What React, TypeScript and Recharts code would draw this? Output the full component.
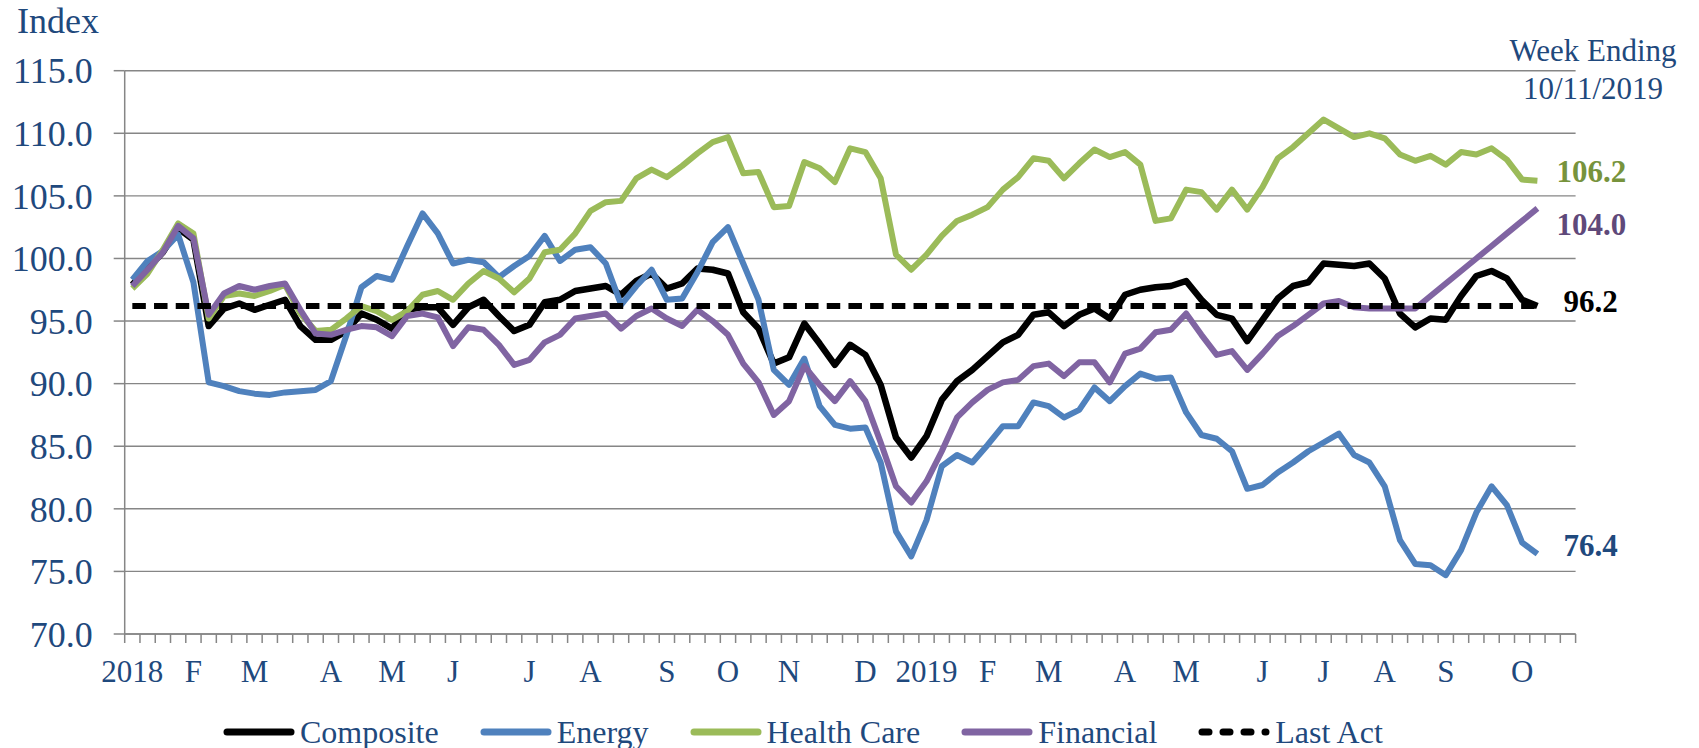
import { CartesianGrid, Line, LineChart, ReferenceLine, XAxis, YAxis } from "recharts";

// weekly index values, week ending Fri 1/5/2018 .. 10/11/2019
const composite = [
  97.9, 99.2, 100.5, 102.4, 101.5, 94.6, 96.0, 96.4, 95.9, 96.3, 96.7, 94.6, 93.5, 93.5, 94.2, 95.6,
  95.1, 94.4, 95.9, 96.1, 96.1, 94.7, 96.1, 96.7, 95.4, 94.2, 94.7, 96.5, 96.7, 97.4, 97.6, 97.8,
  97.1, 98.2, 98.8, 97.6, 98.0, 99.2, 99.1, 98.8, 95.7, 94.4, 91.6, 92.1, 94.8, 93.2, 91.5, 93.1,
  92.3, 89.9, 85.7, 84.1, 85.8, 88.7, 90.2, 91.1, 92.2, 93.3, 93.9, 95.5, 95.7, 94.6, 95.5, 96.0,
  95.2, 97.1, 97.5, 97.7, 97.8, 98.2, 96.7, 95.5, 95.2, 93.4, 95.1, 96.8, 97.8, 98.1, 99.6, 99.5,
  99.4, 99.6, 98.4, 95.6, 94.5, 95.2, 95.1, 97.0, 98.6, 99.0, 98.4, 96.7, 96.2,
];

const energy = [
  98.3, 99.8, 100.6, 101.9, 98.1, 90.1, 89.8, 89.4, 89.2, 89.1, 89.3, 89.4, 89.5, 90.2, 93.8, 97.7,
  98.6, 98.3, 101.0, 103.6, 102.0, 99.6, 99.9, 99.7, 98.5, 99.4, 100.2, 101.8, 99.8, 100.7, 100.9, 99.6,
  96.3, 97.8, 99.1, 96.7, 96.8, 98.9, 101.3, 102.5, 99.6, 96.7, 91.1, 89.9, 92.0, 88.2, 86.7, 86.4,
  86.5, 83.7, 78.2, 76.2, 79.1, 83.4, 84.3, 83.7, 85.1, 86.6, 86.6, 88.5, 88.2, 87.3, 87.9, 89.7,
  88.6, 89.8, 90.8, 90.4, 90.5, 87.7, 85.9, 85.6, 84.6, 81.6, 81.9, 82.9, 83.7, 84.6, 85.3, 86.0,
  84.3, 83.7, 81.8, 77.5, 75.6, 75.5, 74.7, 76.7, 79.7, 81.8, 80.3, 77.3, 76.4,
];

const healthCare = [
  97.6, 98.8, 100.7, 102.8, 102.0, 95.2, 97.0, 97.2, 97.0, 97.4, 97.9, 95.6, 94.2, 94.3, 95.2, 96.2,
  95.8, 95.1, 95.8, 97.1, 97.4, 96.7, 98.0, 99.0, 98.4, 97.3, 98.4, 100.5, 100.7, 102.0, 103.8, 104.5,
  104.6, 106.4, 107.1, 106.5, 107.4, 108.4, 109.3, 109.7, 106.8, 106.9, 104.1, 104.2, 107.7, 107.2, 106.1, 108.8,
  108.5, 106.4, 100.3, 99.1, 100.3, 101.8, 103.0, 103.5, 104.1, 105.5, 106.5, 108.0, 107.8, 106.4, 107.6, 108.7,
  108.1, 108.5, 107.5, 103.0, 103.2, 105.5, 105.3, 103.9, 105.5, 103.9, 105.7, 108.0, 108.9, 110.0, 111.1, 110.4,
  109.7, 110.0, 109.6, 108.3, 107.8, 108.2, 107.5, 108.5, 108.3, 108.8, 107.9, 106.3, 106.2,
];

const financial = [
  97.8, 99.1, 100.5, 102.6, 101.6, 95.5, 97.2, 97.8, 97.5, 97.8, 98.0, 95.9, 94.0, 93.9, 94.3, 94.6,
  94.5, 93.8, 95.4, 95.6, 95.3, 93.0, 94.5, 94.3, 93.1, 91.5, 91.9, 93.3, 93.9, 95.2, 95.4, 95.6,
  94.4, 95.4, 96.0, 95.2, 94.6, 95.9, 95.0, 93.9, 91.6, 90.1, 87.5, 88.6, 91.4, 89.9, 88.6, 90.2,
  88.6, 85.3, 81.8, 80.5, 82.2, 84.6, 87.3, 88.5, 89.5, 90.1, 90.3, 91.4, 91.6, 90.6, 91.7, 91.7,
  90.1, 92.4, 92.8, 94.1, 94.3, 95.6, 93.9, 92.3, 92.6, 91.1, 92.4, 93.8, 94.6, 95.5, 96.4, 96.6,
  96.1, 96.0, 96.0, 96.0, 96.0, 97.0, 98.0, 99.0, 100.0, 101.0, 102.0, 103.0, 104.0,
];

const lastAct = 96.2;

// first week of each month on the category axis
const monthTicks = [
  { week: 0, label: "2018" },
  { week: 4, label: "F" },
  { week: 8, label: "M" },
  { week: 13, label: "A" },
  { week: 17, label: "M" },
  { week: 21, label: "J" },
  { week: 26, label: "J" },
  { week: 30, label: "A" },
  { week: 35, label: "S" },
  { week: 39, label: "O" },
  { week: 43, label: "N" },
  { week: 48, label: "D" },
  { week: 52, label: "2019" },
  { week: 56, label: "F" },
  { week: 60, label: "M" },
  { week: 65, label: "A" },
  { week: 69, label: "M" },
  { week: 74, label: "J" },
  { week: 78, label: "J" },
  { week: 82, label: "A" },
  { week: 86, label: "S" },
  { week: 91, label: "O" },
];

const yTicks = [70, 75, 80, 85, 90, 95, 100, 105, 110, 115];

const CATEGORY_COUNT = 95;
const CHART_W = 1699;
const CHART_H = 748;
const Y_AXIS_W = 124.7;
const margin = { top: 70.7, right: 123.4, bottom: 54, left: 0 };
const slot = (CHART_W - margin.left - margin.right - Y_AXIS_W) / CATEGORY_COUNT;

const serif = '"Liberation Serif", "Times New Roman", serif';
const textBlue = "#1F497D";
const gridGray = "#868686";

const colors = {
  composite: "#000000",
  energy: "#4F81BD",
  healthCare: "#9BBB59",
  financial: "#8064A2",
};

const data = composite.map((value, i) => ({
  week: i,
  composite: value,
  energy: energy[i],
  healthCare: healthCare[i],
  financial: financial[i],
}));

const boundaries = Array.from({ length: CATEGORY_COUNT + 1 }, (_, k) => k - 0.5);

const legendItems = [
  { name: "Composite", color: colors.composite, dashed: false },
  { name: "Energy", color: colors.energy, dashed: false },
  { name: "Health Care", color: colors.healthCare, dashed: false },
  { name: "Financial", color: colors.financial, dashed: false },
  { name: "Last Act", color: "#000000", dashed: true },
];

function MonthTick(props: any) {
  const { x, y, payload } = props;
  const hit = monthTicks.find((m) => m.week === payload.value + 0.5);
  if (!hit) return <g />;
  return (
    <text x={x + slot / 2} y={y + 38.7} textAnchor="middle" fill={textBlue} fontSize={31} fontFamily={serif}>
      {hit.label}
    </text>
  );
}

function endLabel(color: string, dx: number, dy: number) {
  return (p: any) => {
    if (p.index !== data.length - 1) return null;
    const x = p.x ?? p.viewBox?.x;
    const y = p.y ?? p.viewBox?.y;
    return (
      <text x={x + dx} y={y + dy} fill={color} fontSize={31} fontWeight="bold" fontFamily={serif}>
        {Number(p.value).toFixed(1)}
      </text>
    );
  };
}

export default function App() {
  return (
    <div style={{ position: "relative", width: CHART_W, height: CHART_H, fontFamily: serif }}>
      <style>{"body{margin:0}"}</style>
      <LineChart width={CHART_W} height={CHART_H} data={data} margin={margin}>
        <CartesianGrid vertical={false} stroke={gridGray} strokeWidth={1.4} />
        <XAxis
          dataKey="week"
          type="number"
          domain={[-0.5, CATEGORY_COUNT - 0.5]}
          ticks={boundaries}
          interval={0}
          height={60}
          tickSize={9}
          tickMargin={0}
          axisLine={{ stroke: gridGray, strokeWidth: 1.5 }}
          tickLine={{ stroke: gridGray, strokeWidth: 1.5 }}
          tick={(p: any) => <MonthTick {...p} />}
        />
        <YAxis
          domain={[70, 115]}
          ticks={yTicks}
          width={Y_AXIS_W}
          tickSize={11}
          tickMargin={21}
          axisLine={{ stroke: gridGray, strokeWidth: 1.5 }}
          tickLine={{ stroke: gridGray, strokeWidth: 1.5 }}
          tick={{ fill: textBlue, fontSize: 36, fontFamily: serif }}
          tickFormatter={(v: number) => v.toFixed(1)}
        />
        <Line
          dataKey="composite"
          stroke={colors.composite}
          strokeWidth={6.5}
          strokeLinejoin="round"
          dot={false}
          isAnimationActive={false}
          label={endLabel("#000000", 26, 5.7)}
        />
        <Line
          dataKey="energy"
          stroke={colors.energy}
          strokeWidth={6}
          strokeLinejoin="round"
          dot={false}
          isAnimationActive={false}
          label={endLabel("#1F497D", 26, 2)}
        />
        <Line
          dataKey="healthCare"
          stroke={colors.healthCare}
          strokeWidth={6}
          strokeLinejoin="round"
          dot={false}
          isAnimationActive={false}
          label={endLabel("#77933C", 19, 0.8)}
        />
        <Line
          dataKey="financial"
          stroke={colors.financial}
          strokeWidth={6}
          strokeLinejoin="round"
          dot={false}
          isAnimationActive={false}
          label={endLabel("#5F497A", 19, 26.6)}
        />
        <ReferenceLine
          segment={[
            { x: 0, y: lastAct },
            { x: data.length - 1, y: lastAct },
          ]}
          stroke="#000000"
          strokeWidth={6}
          strokeDasharray="13.5 8.2"
        />
      </LineChart>

      <svg width={CHART_W} height={CHART_H} style={{ position: "absolute", left: 0, top: 0, pointerEvents: "none" }}>
        <text x={17} y={33} fill={textBlue} fontSize={36} fontFamily={serif}>
          Index
        </text>
        <text x={1593} y={61} textAnchor="middle" fill={textBlue} fontSize={31} fontFamily={serif}>
          Week Ending
        </text>
        <text x={1593} y={99} textAnchor="middle" fill={textBlue} fontSize={31} fontFamily={serif}>
          10/11/2019
        </text>
      </svg>

      <div
        style={{
          position: "absolute",
          left: 223,
          top: 716,
          display: "flex",
          alignItems: "center",
          fontSize: 32,
          lineHeight: "32px",
          color: textBlue,
          whiteSpace: "nowrap",
        }}
      >
        {legendItems.map((item) => (
          <div key={item.name} style={{ display: "flex", alignItems: "center", marginRight: 41 }}>
            <svg width={72} height={16}>
              <line
                x1={4}
                x2={68}
                y1={8}
                y2={8}
                stroke={item.color}
                strokeWidth={7}
                strokeLinecap="round"
                strokeDasharray={item.dashed ? "7 14" : undefined}
              />
            </svg>
            <span style={{ marginLeft: 5 }}>{item.name}</span>
          </div>
        ))}
      </div>
    </div>
  );
}
